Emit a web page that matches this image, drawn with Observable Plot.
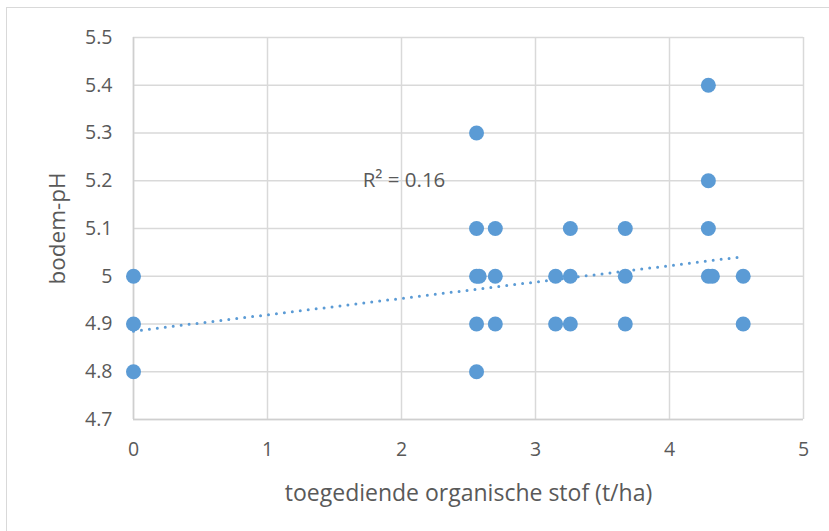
<!DOCTYPE html>
<html>
<head>
<meta charset="utf-8">
<script src="https://cdn.jsdelivr.net/npm/d3@7"></script>
<script src="https://cdn.jsdelivr.net/npm/@observablehq/plot@0.6"></script>
<style>
  html, body { margin: 0; padding: 0; background: #fff; }
  #wrap { position: relative; width: 829px; height: 531px; overflow: hidden; }
  #border { position: absolute; left: 6px; top: 7px; width: 900px; height: 600px;
            border-top: 1.5px solid #d9d9d9; border-left: 1.5px solid #d9d9d9; pointer-events: none; }
</style>
</head>
<body>
<div id="wrap"><div id="border"></div></div>
<script>
// Data
const organicMatter = [0, 0, 0,
  2.56, 2.56, 2.56, 2.58, 2.56, 2.56,
  2.70, 2.70, 2.70,
  3.15, 3.15,
  3.26, 3.26, 3.26,
  3.67, 3.67, 3.67,
  4.29, 4.29, 4.29, 4.29, 4.32,
  4.55, 4.55];
const soilPH = [5.0, 4.9, 4.8,
  5.3, 5.1, 5.0, 5.0, 4.9, 4.8,
  5.1, 5.0, 4.9,
  5.0, 4.9,
  5.1, 5.0, 4.9,
  5.1, 5.0, 4.9,
  5.4, 5.2, 5.1, 5.0, 5.0,
  5.0, 4.9];
const trendX = [0, 4.55];
const trendY = [4.885, 5.041];
const xTicks = [0, 1, 2, 3, 4, 5];
const yTicks = [4.7, 4.8, 4.9, 5.0, 5.1, 5.2, 5.3, 5.4, 5.5];
const xTitle = "toegediende organische stof (t/ha)";
const yTitle = "bodem-pH";
const r2Label = "R² = 0.16";
const r2At = {x: 1.71, y: 5.2};

const points = organicMatter.map((x, i) => ({x, y: soilPH[i]}));
const trend = trendX.map((x, i) => ({x, y: trendY[i]}));

const blue = "#5b9bd5";
const textCol = "#595959";
const gridCol = "#d9d9d9";
const font = "'Open Sans', sans-serif";

const chart = Plot.plot({
  width: 829,
  height: 531,
  marginLeft: 133,
  marginRight: 26,
  marginTop: 37,
  marginBottom: 112,
  style: {fontFamily: font, background: "transparent", overflow: "visible"},
  x: {domain: [0, 5]},
  y: {domain: [4.7, 5.5]},
  marks: [
    Plot.ruleY(yTicks, {stroke: gridCol, strokeWidth: 1.5}),
    Plot.ruleX(xTicks, {stroke: gridCol, strokeWidth: 1.5}),
    Plot.ruleY([4.7], {stroke: "#cfcfcf", strokeWidth: 1.5}),
    Plot.ruleX([0], {stroke: "#cfcfcf", strokeWidth: 1.5}),
    Plot.axisY(yTicks, {tickSize: 0, tickPadding: 21, fontSize: 19.5, fill: textCol,
      tickFormat: d => String(+d.toFixed(1)), label: null}),
    Plot.axisX(xTicks, {tickSize: 0, tickPadding: 23, fontSize: 19.5, fill: textCol,
      tickFormat: d => String(d), label: null}),
    Plot.line(trend, {x: "x", y: "y", stroke: blue, strokeWidth: 3,
      strokeDasharray: "0 8", strokeLinecap: "round"}),
    Plot.dot(points, {x: "x", y: "y", r: 7.5, fill: blue, stroke: "none"}),
    Plot.text([r2Label], {x: () => r2At.x, y: () => r2At.y, text: d => d, textAnchor: "start",
      fontSize: 20.5, fill: textCol, lineAnchor: "middle"}),
    Plot.text([xTitle], {frameAnchor: "bottom", dy: 74, text: d => d, fontSize: 23,
      fill: textCol, lineAnchor: "middle"}),
    Plot.text([yTitle], {frameAnchor: "left", textAnchor: "middle", dx: -76, rotate: -90, text: d => d,
      fontSize: 22.5, fill: textCol, lineAnchor: "middle"})
  ]
});
document.getElementById("wrap").appendChild(chart);
chart.style.position = "absolute";
chart.style.left = "0";
chart.style.top = "0";
</script>
</body>
</html>
